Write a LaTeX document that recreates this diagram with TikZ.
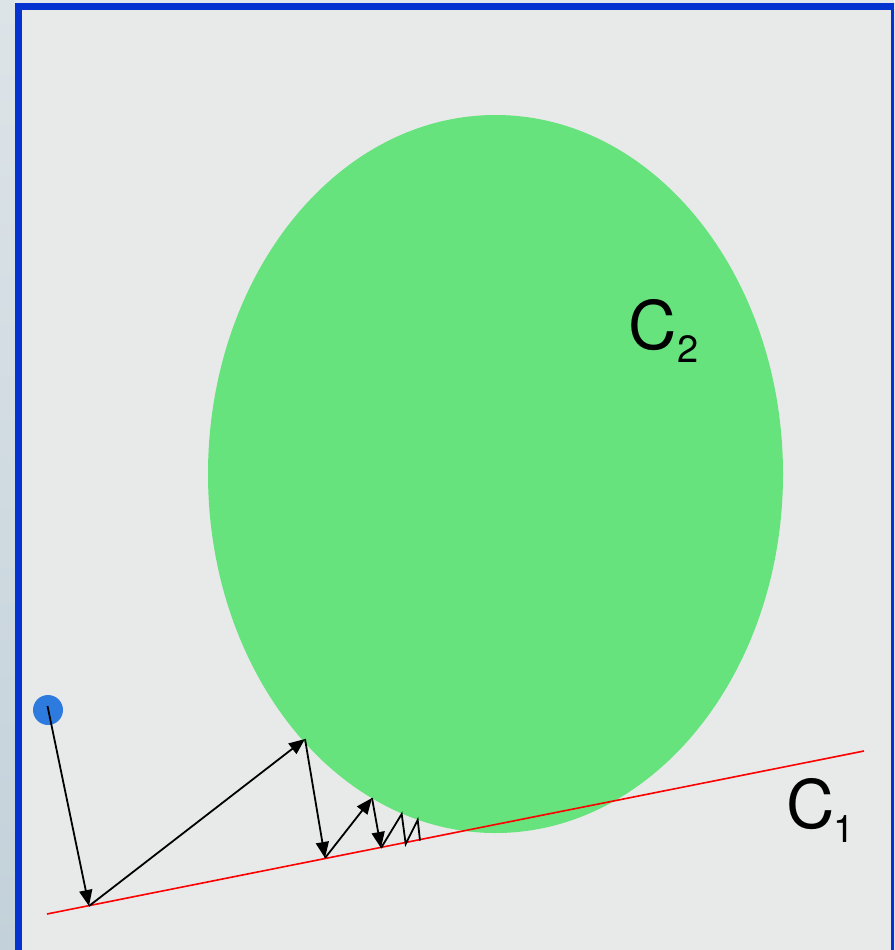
\documentclass[tikz,border=0pt]{standalone}
\usepackage{fontspec}
\setmainfont{TeX Gyre Heros}
\usetikzlibrary{arrows.meta}
\definecolor{bgfill}{HTML}{E8EAE9}
\definecolor{stripTop}{HTML}{DDE4E8}
\definecolor{stripBot}{HTML}{C3D1DA}
\definecolor{frameblue}{HTML}{0433D0}
\definecolor{ellgreen}{HTML}{66E37D}
\definecolor{dotblue}{HTML}{2E7BE0}
\newcommand{\mysub}[1]{{\fontsize{38}{40}\selectfont\raisebox{-13.5pt}{#1}}}
\tikzset{
  bounce/.style={line width=1.8pt, black, -{Triangle[length=16pt,width=13pt]}},
  bouncesmall/.style={line width=1.8pt, black},
  biglabel/.style={inner sep=0pt, anchor=base west, font=\fontsize{67}{70}\selectfont}
}
\begin{document}
\begin{tikzpicture}[x=1pt,y=-1pt]
\useasboundingbox (0,0) rectangle (894,950);
\clip (0,0) rectangle (894,950);
% background strip
\shade[top color=stripTop, bottom color=stripBot] (0,0) rectangle (894,950);
\fill[stripTop!80!white] (15,0) rectangle (894,3);
\fill[bgfill] (15,3) rectangle (894,950);
\draw[frameblue, line width=7pt] (18.5,6.5) rectangle (894.5,953);
% ellipse C2
\fill[ellgreen] (495.5,474) ellipse [x radius=287.5, y radius=359];
% line C1
\coordinate (l1) at (47,914);
\coordinate (l2) at (864,751);
\draw[red, line width=1.6pt] (l1) -- (l2);
% start point
\fill[dotblue] (48,710) circle [radius=15];
\coordinate (p0) at (47.5,706);
\coordinate (p1) at (89,906);
\coordinate (p2) at (305,739);
\coordinate (p3) at (325,858);
\coordinate (p4) at (372,798);
\coordinate (p5) at (381,848);
\coordinate (p6) at (401.7,814);
\coordinate (p7) at (405.7,844);
\coordinate (p8) at (417.7,820);
\coordinate (p9) at (420,840.5);
\draw[bounce] (p0) -- (p1);
\draw[bounce] (p1) -- (p2);
\draw[bounce] (p2) -- (p3);
\draw[bounce] (p3) -- (p4);
\draw[bounce] (p4) -- (p5);
\draw[bouncesmall, line join=miter] (p5) -- (p6) -- (p7) -- (p8) -- (p9);
% labels
\node[biglabel] (c2) at (628.5,349) {C\mysub{2}};
\node[biglabel] (c1) at (786.5,828.5) {C\kern-2pt\mysub{1}};
\end{tikzpicture}
\end{document}
